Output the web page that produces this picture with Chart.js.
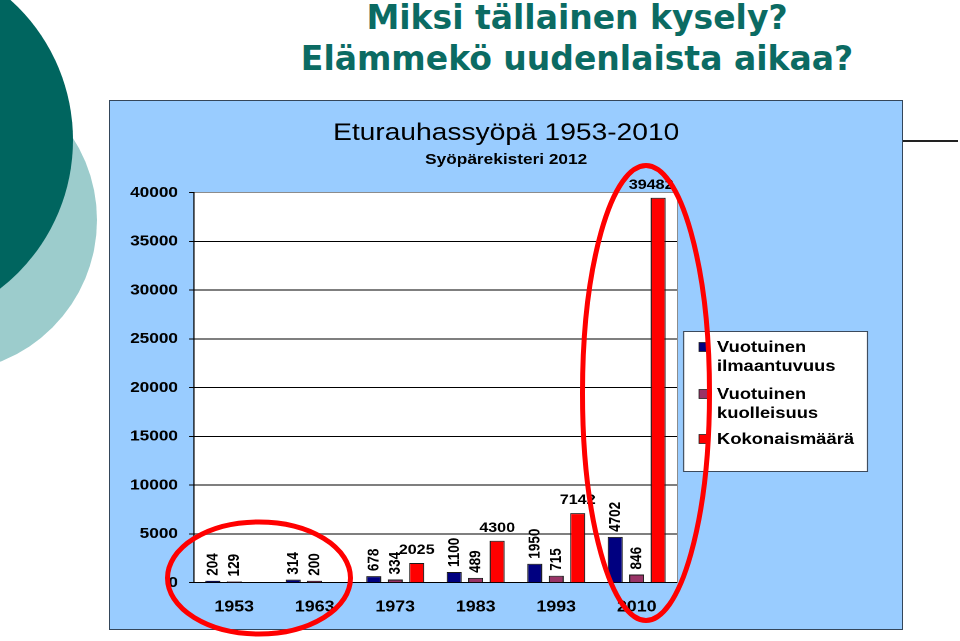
<!DOCTYPE html>
<html>
<head>
<meta charset="utf-8">
<script src="https://cdn.jsdelivr.net/npm/chart.js@4.4.1/dist/chart.umd.min.js"></script>
<style>
html,body{margin:0;padding:0;width:960px;height:641px;overflow:hidden;background:#fff;}
body{position:relative;}
.circ{position:absolute;border-radius:50%;}
#c1{left:-207px;top:68px;width:304px;height:304px;background:#9ccccc;}
#c2{left:-303px;top:-48px;width:376px;height:376px;background:#00655f;}
#slideTitle{position:absolute;left:200px;width:754px;top:-3px;text-align:center;font-family:"DejaVu Sans",sans-serif;font-weight:bold;font-size:33px;line-height:41px;color:#0b6b63;white-space:nowrap;}
#rule{position:absolute;left:903px;top:140px;width:55px;height:2px;background:#222;}
#box{position:absolute;left:109px;top:100px;width:792px;height:528px;border:1px solid #34465a;background:#99ccff;overflow:hidden;}
#wrap{position:absolute;left:0;top:0;width:689px;height:528px;transform:scaleX(1.15);transform-origin:0 0;}
#ann{position:absolute;left:0;top:0;width:960px;height:641px;pointer-events:none;}
</style>
</head>
<body>
<div class="circ" id="c1"></div>
<div class="circ" id="c2"></div>
<div id="slideTitle">Miksi tällainen kysely?<br>Elämmekö uudenlaista aikaa?</div>
<div id="rule"></div>
<div id="box"><div id="wrap"><canvas id="chart" width="689" height="528"></canvas></div></div>
<svg id="ann" width="960" height="641">
  <ellipse cx="259" cy="578" rx="91.5" ry="56" fill="none" stroke="#ff0000" stroke-width="5"/>
  <ellipse cx="646" cy="393" rx="63.5" ry="227.5" fill="none" stroke="#ff0000" stroke-width="5"/>
</svg>
<script>
// ---- data ----
const categories = ['1953', '1963', '1973', '1983', '1993', '2010'];
const incidence = [204, 314, 678, 1100, 1950, 4702];
const mortality = [129, 200, 334, 489, 715, 846];
const total = [null, null, 2025, 4300, 7142, 39482];
const seriesNames = [['Vuotuinen', 'ilmaantuvuus'], ['Vuotuinen', 'kuolleisuus'], ['Kokonaismäärä']];
const seriesColors = ['#000080', '#993366', '#ff0000'];
const yMin = 0, yMax = 40000, yStep = 5000;
const chartTitle = 'Eturauhassyöpä 1953-2010';
const chartSubtitle = 'Syöpärekisteri 2012';

const FONT = '"Liberation Sans", Arial, sans-serif';

const bgPlugin = {
  id: 'plotBg',
  beforeDraw(chart) {
    const { ctx, chartArea: a } = chart;
    ctx.save();
    ctx.fillStyle = '#ffffff';
    ctx.fillRect(a.left, a.top, a.right - a.left, a.bottom - a.top);
    ctx.restore();
  },
  afterDatasetsDraw(chart) {
    const { ctx, chartArea: a } = chart;
    ctx.save();
    ctx.strokeStyle = '#8c8c8c';
    ctx.lineWidth = 1;
    ctx.beginPath();
    ctx.moveTo(Math.round(a.right) + 0.5, a.top);
    ctx.lineTo(Math.round(a.right) + 0.5, a.bottom);
    ctx.stroke();
    ctx.restore();
  }
};

const titlePlugin = {
  id: 'titles',
  afterDraw(chart) {
    const ctx = chart.ctx;
    const cx = chart.width / 2;
    ctx.save();
    ctx.fillStyle = '#000';
    ctx.textAlign = 'center';
    ctx.textBaseline = 'middle';
    ctx.font = 'normal 24.5px ' + FONT;
    ctx.fillText(chartTitle, cx, 32);
    ctx.font = 'bold 15px ' + FONT;
    ctx.fillText(chartSubtitle, cx, 59);
    ctx.restore();
  }
};

const labelPlugin = {
  id: 'valueLabels',
  afterDatasetsDraw(chart) {
    const { ctx, chartArea: a } = chart;
    chart.data.datasets.forEach((ds, i) => {
      const meta = chart.getDatasetMeta(i);
      meta.data.forEach((el, j) => {
        const v = ds.data[j];
        if (v === null || v === undefined) return;
        const t = String(v);
        ctx.save();
        ctx.fillStyle = '#000';
        if (i < 2) {
          ctx.font = 'bold 13.5px ' + FONT;
          ctx.translate(el.x, el.y - 5);
          ctx.rotate(-Math.PI / 2);
          ctx.textAlign = 'left';
          ctx.textBaseline = 'middle';
          ctx.fillText(t, 0, 0.5);
        } else {
          ctx.font = 'bold 14px ' + FONT;
          const w = ctx.measureText(t).width;
          const x = Math.min(el.x, a.right - 3 - w / 2);
          ctx.textAlign = 'center';
          ctx.textBaseline = 'alphabetic';
          ctx.fillText(t, x, el.y - 9);
        }
        ctx.restore();
      });
    });
  }
};

const legendPlugin = {
  id: 'boxLegend',
  afterDraw(chart) {
    const ctx = chart.ctx;
    const bx = 498.3, by = 230, bw = 160.8, bh = 141;
    ctx.save();
    ctx.fillStyle = '#ffffff';
    ctx.fillRect(bx, by, bw, bh);
    ctx.strokeStyle = '#3c4a5c';
    ctx.lineWidth = 1;
    ctx.strokeRect(bx + 0.5, by + 0.5, bw - 1, bh - 1);
    const lineCenters = [[246, 265], [293, 312], [338]];
    ctx.font = 'bold 16px ' + FONT;
    ctx.textAlign = 'left';
    ctx.textBaseline = 'middle';
    chart.data.datasets.forEach((ds, i) => {
      const ys = lineCenters[i];
      ctx.fillStyle = ds.backgroundColor;
      ctx.fillRect(512.2, ys[0] - 4.5, 8.2, 9);
      ctx.strokeStyle = '#222';
      ctx.lineWidth = 0.8;
      ctx.strokeRect(512.2, ys[0] - 4.5, 8.2, 9);
      ctx.fillStyle = '#000';
      const lines = Array.isArray(ds.label) ? ds.label : [ds.label];
      lines.forEach((ln, k) => ctx.fillText(ln, 527.8, ys[k] + 0.5));
    });
    ctx.restore();
  }
};

const datasets = [incidence, mortality, total].map((d, i) => ({
  label: seriesNames[i],
  data: d,
  backgroundColor: seriesColors[i],
  borderColor: '#1a1a1a',
  borderWidth: 1,
  categoryPercentage: 0.8,
  barPercentage: 0.7
}));

new Chart(document.getElementById('chart'), {
  type: 'bar',
  data: { labels: categories, datasets: datasets },
  options: {
    responsive: false,
    animation: false,
    devicePixelRatio: 2,
    layout: { padding: { left: 0, right: 196, top: 91.7, bottom: 0 } },
    plugins: { legend: { display: false }, title: { display: false }, tooltip: { enabled: false } },
    scales: {
      x: {
        grid: { display: false, drawTicks: false },
        border: { display: true, color: '#000', width: 1 },
        ticks: { color: '#000', padding: 15, maxRotation: 0, font: { family: FONT, size: 15.5, weight: 'bold' } },
        afterFit(s) { s.height = 46.3; }
      },
      y: {
        min: yMin, max: yMax,
        ticks: { stepSize: yStep, color: '#000', padding: 9.5, font: { family: FONT, size: 15, weight: 'bold' }, callback: v => String(v) },
        grid: { color: c => (c.tick && c.tick.value === yMax ? '#8c8c8c' : '#000'), tickLength: 4.35, tickColor: '#000', lineWidth: 1 },
        border: { color: '#000', width: 1 },
        afterFit(s) { s.width = 73; }
      }
    }
  },
  plugins: [bgPlugin, labelPlugin, legendPlugin, titlePlugin]
});
</script>
</body>
</html>
